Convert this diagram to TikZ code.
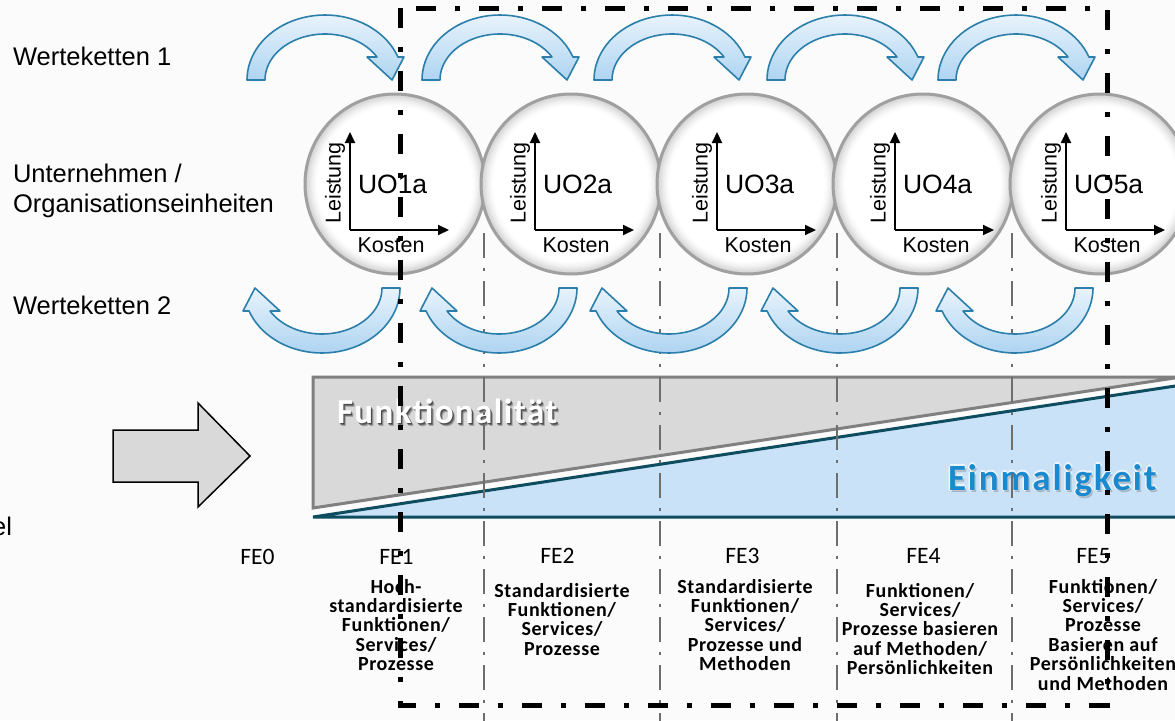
\documentclass[tikz,border=0pt]{standalone}
\usepackage{fontspec}
\setmainfont{Liberation Sans}
\newfontfamily\calibri{Carlito}
\usetikzlibrary{arrows.meta}

\definecolor{pagebg}{HTML}{FBFBFB}
\definecolor{bandblue}{HTML}{C9E2F8}
\definecolor{tealline}{HTML}{0E4D5F}
\definecolor{panelgray}{HTML}{D9D9D9}
\definecolor{paneledge}{HTML}{808080}
\definecolor{arrowedge}{HTML}{2B7FAA}
\definecolor{arrowlight}{HTML}{E8F3FC}
\definecolor{arrowdeep}{HTML}{AED4F1}
\definecolor{uniqueblue}{HTML}{1A8AD0}
\definecolor{rimgray}{HTML}{A0A0A0}
\definecolor{sepgray}{HTML}{6E6E6E}
\definecolor{bigarrow}{HTML}{D9D9D9}

% curved value-chain arrow: #1,#2 = outer foot, #3 = +1 (arching up) or -1 (arching down)
\newcommand\valuearrow[3]{%
  \draw[flowarrow]
    plot[domain=180:339.3,samples=40] ({#1+(#3)*(78+78*cos(\x))},{#2+(#3)*65*sin(\x)})
    -- ({#1+(#3)*157},{#2-(#3)*23})
    -- ({#1+(#3)*145},{#2})
    -- ({#1+(#3)*120},{#2-(#3)*23})
    -- plot[domain=330:180,samples=40] ({#1+(#3)*(78+60*cos(\x))},{#2+(#3)*46*sin(\x)})
    -- cycle;}

\begin{document}
\begin{tikzpicture}[x=1pt,y=-1pt,
  every node/.style={inner sep=0pt, outer sep=0pt},
  rowlabel/.style={font=\fontsize{25.5}{30}\selectfont, anchor=base west},
  uocircle/.style={circle, minimum size=182pt, fill=white},
  axisarrow/.style={line width=2pt, -{Triangle[length=11pt,width=10pt]}},
  axislabel/.style={font=\fontsize{21.5}{24}\selectfont},
  uolabel/.style={font=\fontsize{26.5}{30}\selectfont, anchor=base west},
  flowarrow/.style={draw=arrowedge, line width=1.6pt, line join=round, top color=arrowlight, bottom color=arrowdeep},
  frame/.style={line width=5pt, dash pattern=on 20pt off 19pt on 5pt off 19pt},
  separator/.style={draw=sepgray, line width=2.5pt, dash pattern=on 25pt off 10pt on 3pt off 10pt},
  felabel/.style={font=\calibri\fontsize{23.5}{24}\selectfont, anchor=base},
  fetext/.style={font=\calibri\bfseries\fontsize{20}{19.4}\selectfont\addfontfeatures{LetterSpace=3}, align=center, anchor=north},
  bigword/.style={font=\calibri\bfseries\fontsize{35}{36}\selectfont\addfontfeatures{LetterSpace=4}, anchor=base west},
  uniqueword/.style={font=\calibri\bfseries\fontsize{37}{38}\selectfont\addfontfeatures{LetterSpace=5}, anchor=base west},
]
\useasboundingbox (0,0) rectangle (1175,720);
\clip (0,0) rectangle (1175,720);
\fill[pagebg] (0,0) rectangle (1175,720);

% functionality / uniqueness wedge
\draw[fill=panelgray, draw=paneledge, line width=3pt, line join=miter] (313,508) -- (313,377) -- (1181,377) -- cycle;
\fill[bandblue] (313,517) -- (1195,383) -- (1195,517) -- cycle;
\draw[tealline, line width=3pt] (1195,383) -- (313,517) -- (1195,517);

% large block arrow
\draw[fill=bigarrow, draw=black, line width=1.5pt, line join=miter]
  (113,430) -- (198,430) -- (198,403) -- (250,456) -- (198,507) -- (198,482) -- (113,482) -- cycle;

% wedge captions
\foreach \dx/\dy/\op in {1.5/2.5/0.35, 2.5/3.5/0.25, 1/1.5/0.3}
  {\node[bigword, text=black, opacity=\op] at (337+\dx,423+\dy) {Funktionalität};}
\node[bigword, text=white] (func) at (337,423) {Funktionalität};
\foreach \dx/\dy in {1.5/0, -1.5/0, 0/1.5, 0/-1.5}
  {\node[uniqueword, text=white, opacity=0.7] at (948+\dx,490+\dy) {Einmaligkeit};}
\node[uniqueword, text=black, opacity=0.2] at (949.5,492.5) {Einmaligkeit};
\node[uniqueword, text=uniqueblue] (unique) at (948,490) {Einmaligkeit};

% stage separators
\foreach \sx in {484,660,837,1012}
  {\draw[separator] (\sx,233) -- (\sx,725);}

% organisational units: white disc, soft inner rim, grey outline, cost/performance axes
\foreach \i/\cx/\ax in {1/395/350, 2/571/535, 3/747/717, 4/923/895, 5/1100/1066} {
  \node[uocircle] (uo\i) at (\cx,184) {};
  \foreach \k [evaluate=\k as \op using {0.16*(1-\k/9)^1.5}, evaluate=\k as \rr using {88.5-\k*1.3}] in {0,...,8}
    {\draw[black, draw opacity=\op, line width=1.3pt] (uo\i.center) circle[radius=\rr];}
  \draw[rimgray, line width=3pt] (uo\i.center) circle[radius=90];
  \coordinate (o\i) at (\ax,230);
  \draw[axisarrow] (o\i) -- ++(0,-98);
  \draw[axisarrow] (o\i) -- ++(99,0);
  \node[axislabel, rotate=90] (perf\i) at (\ax-15,183) {Leistung};
  \node[uolabel] (name\i) at (\ax+8,193) {UO\i a};
  \node[axislabel, anchor=base] (cost\i) at (\ax+41,252) {Kosten};
}

% value chains
\foreach \X in {247,422,594,767,938} {\valuearrow{\X}{80}{1}}
\foreach \X in {400,577,747,918,1093} {\valuearrow{\X}{288}{-1}}

% row labels
\node[rowlabel] (wk1) at (13,65) {Werteketten 1};
\node[rowlabel] (ue1) at (13,182) {Unternehmen /};
\node[rowlabel] (ue2) at (13,212) {Organisationseinheiten};
\node[rowlabel] (wk2) at (13,314) {Werteketten 2};
\node[rowlabel, anchor=base east] (cut) at (12,535) {el};

% development stages
\node[felabel] (fe0) at (257.5,564) {FE0};
\node[felabel] (fe1) at (396.5,564) {FE1};
\node[felabel] (fe2) at (557.5,563) {FE2};
\node[felabel] (fe3) at (742.5,563) {FE3};
\node[felabel] (fe4) at (923.5,563) {FE4};
\node[felabel] (fe5) at (1093.5,563) {FE5};

\node[fetext] (d1) at (396,579) {Hoch-\\standardisierte\\Funktionen/\\Services/\\Prozesse};
\node[fetext] (d2) at (562,583) {Standardisierte\\Funktionen/\\Services/\\Prozesse};
\node[fetext] (d3) at (745,579) {Standardisierte\\Funktionen/\\Services/\\Prozesse und\\Methoden};
\node[fetext] (d4) at (920,583) {Funktionen/\\Services/\\Prozesse basieren\\auf Methoden/\\Persönlichkeiten};
\node[fetext] (d5) at (1103,579) {Funktionen/\\Services/\\Prozesse\\Basieren auf\\Persönlichkeiten\\und Methoden};

% focus frame
\draw[frame] (400,8) rectangle (1107,705);
\end{tikzpicture}
\end{document}
